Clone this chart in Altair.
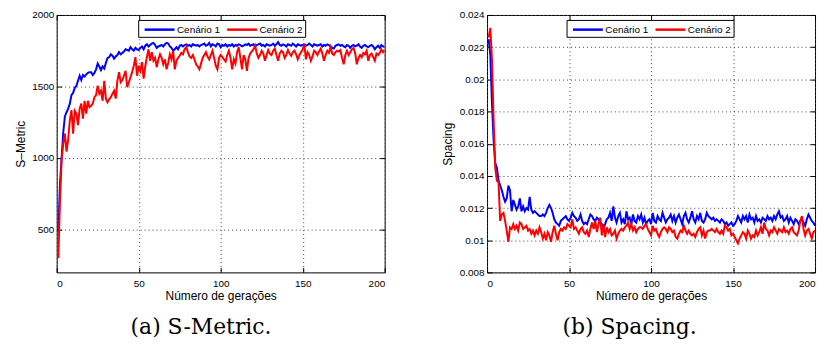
import altair as alt
import pandas as pd

generations = list(range(1, 201))
series_names = ["Cenário 1", "Cenário 2"]
series_colors = ["#0000ff", "#ff0000"]

x_ticks = [0, 50, 100, 150, 200]
smetric_ticks = [500, 1000, 1500, 2000]
spacing_ticks = [0.008, 0.010, 0.012, 0.014, 0.016, 0.018, 0.020, 0.022, 0.024]

smetric_c1 = [
    480, 820, 1000, 1180, 1290, 1320, 1345, 1380, 1440, 1455,
    1490, 1505, 1540, 1575, 1545, 1580, 1570, 1585, 1595, 1600,
    1600, 1580, 1595, 1620, 1660, 1640, 1615, 1640, 1625, 1665,
    1700, 1705, 1725, 1715, 1695, 1710, 1720, 1740, 1725, 1735,
    1745, 1760, 1755, 1750, 1775, 1760, 1750, 1770, 1760, 1755,
    1770, 1780, 1760, 1785, 1795, 1780, 1790, 1800, 1805, 1790,
    1770, 1780, 1785, 1790, 1780, 1795, 1805, 1800, 1780, 1770,
    1750, 1760, 1775, 1760, 1785, 1790, 1780, 1790, 1795, 1785,
    1790, 1780, 1795, 1790, 1785, 1790, 1780, 1790, 1795, 1800,
    1785, 1790, 1805, 1780, 1795, 1790, 1780, 1800, 1795, 1775,
    1790, 1785, 1795, 1780, 1790, 1785, 1795, 1780, 1790, 1785,
    1795, 1790, 1780, 1785, 1795, 1790, 1800, 1785, 1790, 1795,
    1780, 1790, 1795, 1800, 1785, 1790, 1780, 1795, 1790, 1785,
    1790, 1800, 1785, 1795, 1810, 1790, 1785, 1795, 1790, 1780,
    1795, 1790, 1785, 1800, 1790, 1780, 1795, 1790, 1785, 1790,
    1795, 1785, 1790, 1800, 1790, 1780, 1795, 1790, 1785, 1790,
    1795, 1780, 1790, 1785, 1795, 1790, 1780, 1770, 1765, 1785,
    1790, 1795, 1785, 1790, 1780, 1775, 1790, 1785, 1770, 1785,
    1790, 1780, 1785, 1795, 1780, 1770, 1785, 1790, 1780, 1775,
    1785, 1790, 1780, 1760, 1775, 1785, 1770, 1790, 1780, 1775,
]

smetric_c2 = [
    300, 700, 990, 1100, 1170, 1045, 1130, 1265, 1335, 1170,
    1330, 1310, 1230, 1345, 1380, 1275, 1400, 1310, 1400, 1355,
    1365, 1380, 1425, 1440, 1505, 1450, 1470, 1400, 1540, 1415,
    1390, 1410, 1425, 1450, 1470, 1415, 1540, 1600, 1530, 1545,
    1575, 1610, 1495, 1530, 1565, 1600, 1645, 1705, 1575, 1645,
    1610, 1670, 1555, 1640, 1705, 1760, 1680, 1740, 1680, 1700,
    1635, 1690, 1725, 1700, 1655, 1690, 1620, 1665, 1725, 1690,
    1750, 1620, 1680, 1700, 1715, 1735, 1725, 1760, 1775, 1740,
    1710, 1700, 1720, 1690, 1655, 1640, 1620, 1660, 1700, 1720,
    1740, 1710, 1690, 1720, 1750, 1700, 1645, 1620, 1700, 1720,
    1705, 1690, 1675, 1720, 1750, 1700, 1620, 1690, 1660, 1740,
    1775, 1700, 1620, 1720, 1690, 1610, 1700, 1730, 1745, 1760,
    1785, 1730, 1700, 1720, 1750, 1730, 1680, 1720, 1755, 1730,
    1720, 1750, 1765, 1720, 1680, 1730, 1750, 1740, 1700, 1720,
    1755, 1730, 1715, 1740, 1750, 1725, 1690, 1720, 1740, 1760,
    1795, 1690, 1740, 1720, 1680, 1710, 1750, 1740, 1720, 1745,
    1765, 1730, 1680, 1720, 1750, 1735, 1775, 1730, 1720, 1740,
    1750, 1745, 1755, 1700, 1655, 1720, 1750, 1720, 1740, 1760,
    1770, 1735, 1655, 1700, 1720, 1705, 1735, 1725, 1750, 1680,
    1720, 1730, 1705, 1680, 1730, 1720, 1735, 1760, 1740, 1755,
]

spacing_c1 = [
    0.0225, 0.0215, 0.0185, 0.0162, 0.0148, 0.0145, 0.0137, 0.0134, 0.0131, 0.0127,
    0.0124, 0.0126, 0.0134, 0.0131, 0.0118, 0.0125, 0.0122, 0.0119, 0.0121, 0.0126,
    0.0118, 0.0121, 0.0118, 0.0120, 0.0119, 0.0127, 0.0119, 0.0117, 0.0118, 0.0117,
    0.0116, 0.0115, 0.0115, 0.0116, 0.0115, 0.0117, 0.0120, 0.0122, 0.0120, 0.0117,
    0.0113, 0.0111, 0.0110, 0.0109, 0.0112, 0.0113, 0.0114, 0.0115, 0.0113, 0.0112,
    0.0114, 0.0117, 0.0115, 0.0114, 0.0112, 0.0113, 0.0116, 0.0112, 0.0110, 0.0111,
    0.0110, 0.0113, 0.0116, 0.0115, 0.0113, 0.0112, 0.0114, 0.0113, 0.0111, 0.0110,
    0.0107, 0.0110, 0.0113, 0.0114, 0.0117, 0.0112, 0.0121, 0.0114, 0.0111, 0.0115,
    0.0117, 0.0111, 0.0113, 0.0110, 0.0118, 0.0113, 0.0114, 0.0110, 0.0116, 0.0112,
    0.0111, 0.0115, 0.0113, 0.0116, 0.0111, 0.0114, 0.0110, 0.0112, 0.0113, 0.0110,
    0.0117, 0.0112, 0.0111, 0.0115, 0.0113, 0.0112, 0.0117, 0.0114, 0.0111, 0.0113,
    0.0114, 0.0116, 0.0112, 0.0115, 0.0111, 0.0114, 0.0116, 0.0113, 0.0110, 0.0115,
    0.0117, 0.0113, 0.0111, 0.0114, 0.0118, 0.0113, 0.0111, 0.0115, 0.0113, 0.0117,
    0.0112, 0.0111, 0.0113, 0.0117, 0.0115, 0.0114, 0.0113, 0.0114, 0.0112, 0.0113,
    0.0112, 0.0111, 0.0113, 0.0112, 0.0110, 0.0111, 0.0109, 0.0110, 0.0111, 0.0109,
    0.0110, 0.0112, 0.0115, 0.0113, 0.0111, 0.0115, 0.0113, 0.0115, 0.0111, 0.0116,
    0.0113, 0.0114, 0.0111, 0.0115, 0.0112, 0.0113, 0.0111, 0.0114, 0.0113, 0.0112,
    0.0115, 0.0113, 0.0114, 0.0112, 0.0115, 0.0113, 0.0116, 0.0118, 0.0114, 0.0115,
    0.0112, 0.0113, 0.0115, 0.0111, 0.0114, 0.0112, 0.0110, 0.0113, 0.0112, 0.0110,
    0.0112, 0.0113, 0.0111, 0.0109, 0.0113, 0.0116, 0.0114, 0.0112, 0.0111, 0.0109,
]

spacing_c2 = [
    0.0226, 0.0232, 0.0212, 0.0175, 0.0145, 0.0137, 0.0136, 0.0112, 0.0116, 0.0117,
    0.0112, 0.0106, 0.0099, 0.0108, 0.0107, 0.0110, 0.0107, 0.0109, 0.0106, 0.0111,
    0.0110, 0.0107, 0.0108, 0.0109, 0.0106, 0.0107, 0.0104, 0.0106, 0.0103, 0.0106,
    0.0104, 0.0108, 0.0105, 0.0101, 0.0104, 0.0100, 0.0105, 0.0103, 0.0099, 0.0105,
    0.0109, 0.0104, 0.0100, 0.0105, 0.0107, 0.0106, 0.0108, 0.0107, 0.0110, 0.0109,
    0.0108, 0.0113, 0.0107, 0.0108, 0.0106, 0.0104, 0.0107, 0.0108, 0.0105, 0.0104,
    0.0106, 0.0102, 0.0107, 0.0111, 0.0107, 0.0112, 0.0105, 0.0110, 0.0114, 0.0103,
    0.0110, 0.0102, 0.0108, 0.0105, 0.0107, 0.0103, 0.0104, 0.0106, 0.0101, 0.0104,
    0.0106, 0.0107, 0.0106, 0.0108, 0.0109, 0.0111, 0.0107, 0.0110, 0.0106, 0.0108,
    0.0105, 0.0107, 0.0108, 0.0108, 0.0107, 0.0109, 0.0110, 0.0107, 0.0105, 0.0103,
    0.0109, 0.0106, 0.0107, 0.0104, 0.0102, 0.0105, 0.0107, 0.0108, 0.0107, 0.0105,
    0.0108, 0.0107, 0.0105, 0.0106, 0.0102, 0.0101, 0.0104, 0.0106, 0.0105, 0.0109,
    0.0106, 0.0104, 0.0106, 0.0104, 0.0103, 0.0104, 0.0102, 0.0105, 0.0107, 0.0108,
    0.0103, 0.0106, 0.0101, 0.0105, 0.0106, 0.0106, 0.0107, 0.0106, 0.0105, 0.0107,
    0.0105, 0.0104, 0.0106, 0.0104, 0.0109, 0.0108, 0.0106, 0.0107, 0.0103, 0.0104,
    0.0102, 0.0100, 0.0098, 0.0101, 0.0103, 0.0105, 0.0104, 0.0101, 0.0106, 0.0104,
    0.0101, 0.0103, 0.0102, 0.0106, 0.0103, 0.0105, 0.0108, 0.0104, 0.0111, 0.0107,
    0.0106, 0.0103, 0.0106, 0.0105, 0.0108, 0.0106, 0.0104, 0.0107, 0.0106, 0.0105,
    0.0108, 0.0105, 0.0106, 0.0104, 0.0107, 0.0108, 0.0105, 0.0104, 0.0103, 0.0106,
    0.0112, 0.0115, 0.0107, 0.0103, 0.0106, 0.0107, 0.0104, 0.0101, 0.0105, 0.0106,
]

FONT = "Liberation Sans"


def make_df(a, b):
    return pd.DataFrame({
        "geracao": generations + generations,
        "valor": a + b,
        "serie": [series_names[0]] * len(a) + [series_names[1]] * len(b),
    })


def panel(df, ydomain, yticks, yfmt, ytitle, caption, legend_x, title_pad):
    x_scale = alt.Scale(domain=[0, 200], nice=False, zero=False)
    y_scale = alt.Scale(domain=ydomain, nice=False, zero=False)
    lines = alt.Chart(df).mark_line(strokeWidth=2, clip=True).encode(
        x=alt.X("geracao:Q", scale=x_scale,
                axis=alt.Axis(values=x_ticks, title="Número de gerações", grid=True,
                              tickSize=5, offset=-5, labelPadding=6, titlePadding=2,
                              domain=False)),
        y=alt.Y("valor:Q", scale=y_scale,
                axis=alt.Axis(values=yticks, format=yfmt, title=ytitle, grid=True,
                              tickSize=5, offset=-5, labelPadding=3,
                              titlePadding=title_pad, domain=False)),
        color=alt.Color("serie:N",
                        scale=alt.Scale(domain=series_names, range=series_colors),
                        legend=alt.Legend(orient="none", legendX=legend_x, legendY=5,
                                          direction="horizontal", title=None,
                                          symbolType="M-0.5,0H4.5", symbolSize=144,
                                          symbolStrokeWidth=2.5, labelFontSize=10,
                                          labelFont=FONT, labelColor="black",
                                          fillColor="white", strokeColor="black",
                                          padding=2, columnPadding=1, labelOffset=22)),
    )
    frame = alt.Chart(df).mark_point(opacity=0).encode(
        x=alt.X("geracao:Q", scale=x_scale,
                axis=alt.Axis(orient="top", values=x_ticks, labels=False, title=None,
                              grid=False, tickSize=5, offset=-5, domain=False)),
        y=alt.Y("valor:Q", scale=y_scale,
                axis=alt.Axis(orient="right", values=yticks, labels=False, title=None,
                              grid=False, tickSize=5, offset=-5, domain=False)),
    )
    return alt.layer(lines, frame).resolve_axis(
        x="independent", y="independent"
    ).properties(
        width=330, height=259,
        title=alt.TitleParams(caption, orient="bottom", font="DejaVu Serif",
                              fontSize=22, fontWeight="normal", color="black",
                              offset=16, anchor="middle", frame="bounds"),
    )


left = panel(make_df(smetric_c1, smetric_c2), [200, 2000], smetric_ticks, "d",
             "S–Metric", "(a) S-Metric.", 82, 4)
right = panel(make_df(spacing_c1, spacing_c2), [0.008, 0.024], spacing_ticks, "~g",
              "Spacing", "(b) Spacing.", 80, 5)

chart = alt.hconcat(left, right, spacing=52).resolve_scale(
    color="independent"
).properties(
    padding={"left": 6, "top": 0, "right": 0, "bottom": 0}
).configure_view(
    stroke="black", strokeWidth=1
).configure_axis(
    labelFont=FONT, labelFontSize=10, labelColor="black",
    titleFont=FONT, titleFontSize=12, titleFontWeight="normal", titleColor="black",
    tickColor="black", tickWidth=1,
    gridColor="#444444", gridDash=[1, 3], gridWidth=1, gridOpacity=1,
)

chart.save("out.html", embed_options={"renderer": "svg", "actions": False})
